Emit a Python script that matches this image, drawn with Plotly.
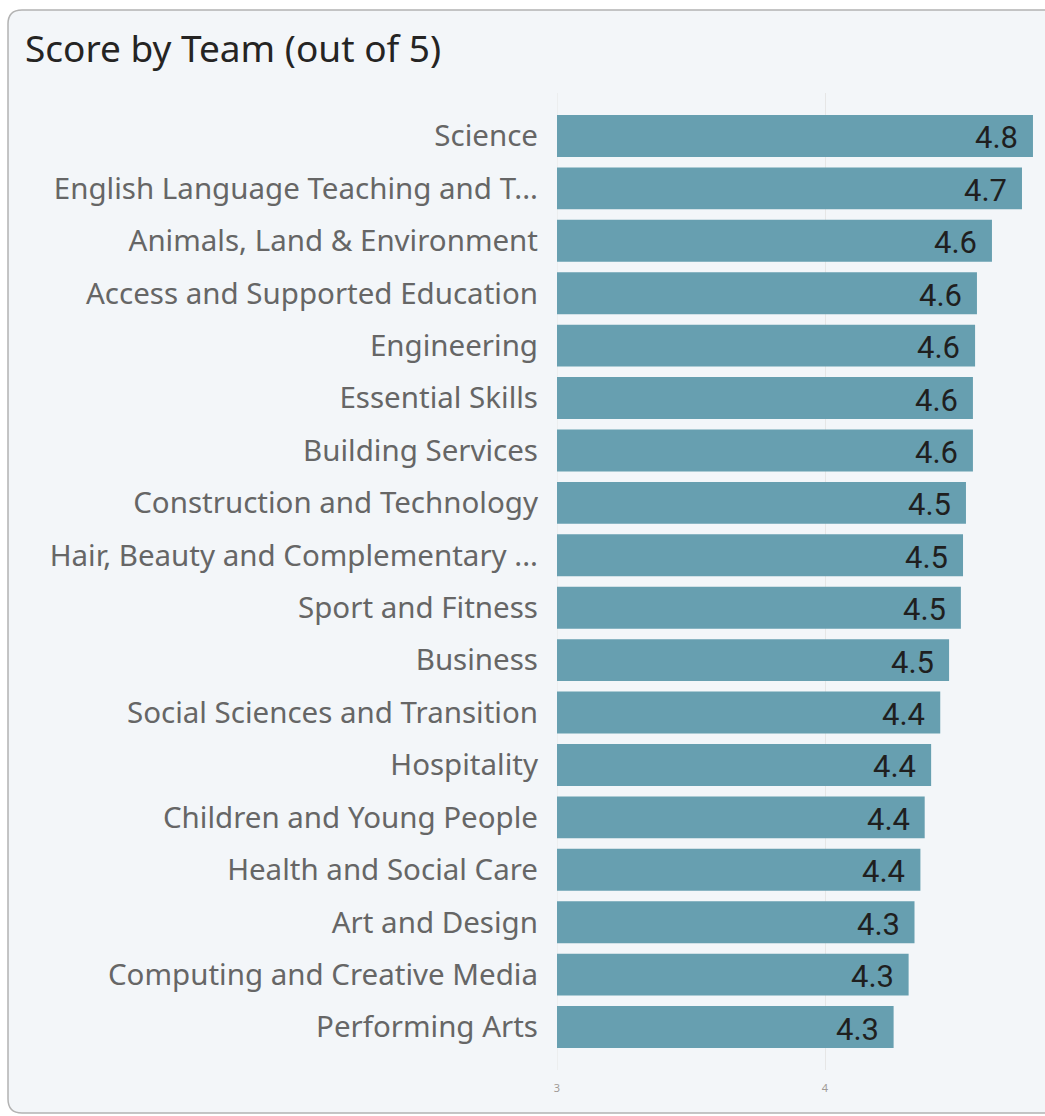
import plotly.graph_objects as go

teams = [
    "Science",
    "English Language Teaching and T...",
    "Animals, Land & Environment",
    "Access and Supported Education",
    "Engineering",
    "Essential Skills",
    "Building Services",
    "Construction and Technology",
    "Hair, Beauty and Complementary ...",
    "Sport and Fitness",
    "Business",
    "Social Sciences and Transition",
    "Hospitality",
    "Children and Young People",
    "Health and Social Care",
    "Art and Design",
    "Computing and Creative Media",
    "Performing Arts",
]
scores = [4.776, 4.735, 4.623, 4.567, 4.560, 4.552, 4.552, 4.526, 4.515,
          4.507, 4.463, 4.430, 4.396, 4.372, 4.356, 4.334, 4.312, 4.256]
x_ticks = [3, 4]

W, H = 1045, 1116
ML, MR, MT, MB = 557, 0, 93, 46
PW, PH = W - ML - MR, H - MT - MB

def px_x(p):
    return (p - ML) / PW

def px_y(p):
    return (H - MB - p) / PH

fig = go.Figure()
fig.add_trace(go.Bar(
    y=list(range(len(teams))),
    x=scores,
    orientation="h",
    marker=dict(color="#679fb0", line=dict(width=0)),
    base=0,
    width=0.8,
    hoverinfo="skip",
))

for i, s in enumerate(scores):
    fig.add_annotation(x=s, y=i, xref="x", yref="y", text=f"{s:.1f}",
                       xanchor="right", yanchor="middle", xshift=-13, yshift=-2,
                       showarrow=False,
                       font=dict(family="Roboto", size=31, color="#1f1f1f"))

# card outline with rounded left corners
x0, x1 = px_x(8), px_x(1060)
yt, yb = px_y(10), px_y(1113)
r = 14
path = (f"M {px_x(8 + r)},{yt} L {x1},{yt} L {x1},{yb} L {px_x(8 + r)},{yb} "
        f"Q {x0},{yb} {x0},{px_y(1113 - r)} L {x0},{px_y(10 + r)} Q {x0},{yt} {px_x(8 + r)},{yt} Z")
fig.add_shape(type="path", path=path, xref="paper", yref="paper",
              line=dict(color="#b3b3b3", width=1.5), fillcolor="#f3f6f9", layer="below")

# gridline at the axis start (edge gridline)
fig.add_shape(type="line", xref="x", yref="paper", x0=x_ticks[0], x1=x_ticks[0], y0=0, y1=1,
              line=dict(color="#e6e6e6", width=1), layer="below")

fig.add_annotation(text="Score by Team (out of 5)", xref="paper", yref="paper",
                   x=px_x(23), y=px_y(48), xanchor="left", yanchor="middle",
                   showarrow=False, font=dict(family="Noto Sans, Open Sans", size=37, color="#252423"))

fig.update_layout(
    width=W, height=H,
    margin=dict(l=ML, r=MR, t=MT, b=MB, pad=0),
    paper_bgcolor="white",
    plot_bgcolor="rgba(0,0,0,0)",
    showlegend=False,
    xaxis=dict(range=[3, 3 + PW / 268.0], tickvals=x_ticks, ticktext=[str(v) for v in x_ticks],
               showgrid=True, gridcolor="#e6e6e6", gridwidth=1, zeroline=False, ticklabelstandoff=10,
               tickfont=dict(family="Noto Sans", size=11, color="#a09a96"), ticks="", showline=False),
    yaxis=dict(range=[17.82, -0.82], tickvals=list(range(len(teams))), ticktext=teams,
               showgrid=False, zeroline=False, ticks="", ticklabelstandoff=18,
               tickfont=dict(family="Noto Sans, Open Sans", size=29.5, color="#666666")),
)

fig.write_html("out.html")
